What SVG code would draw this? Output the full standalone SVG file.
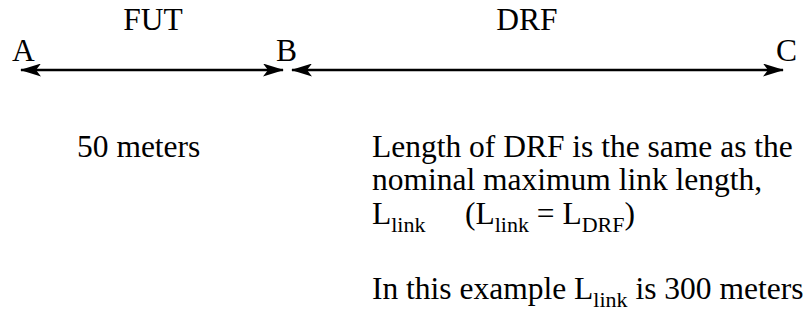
<svg xmlns="http://www.w3.org/2000/svg" width="812" height="322" viewBox="0 0 812 322" font-family="'Liberation Serif','Times New Roman',serif">
<style>
text{font-family:"Liberation Serif","Times New Roman",serif;font-size:31.5px;fill:#000}
.sub{font-size:22px}
.conn{stroke:#000;stroke-width:2.5;fill:none}
</style>
<defs>
<marker id="ah" viewBox="0 0 21 13" refX="20" refY="6.5" markerWidth="21" markerHeight="13" markerUnits="userSpaceOnUse" orient="auto-start-reverse">
<path d="M0,0 L21,6.5 L0,13 L5,6.5 Z" fill="#000"/>
</marker>
</defs>
<rect width="812" height="322" fill="#fff"/>
<g id="connectors">
<line class="conn" x1="21" y1="70" x2="283" y2="70" marker-start="url(#ah)" marker-end="url(#ah)"/>
<line class="conn" x1="292" y1="70" x2="783" y2="70" marker-start="url(#ah)" marker-end="url(#ah)"/>
</g>
<g id="label-FUT"><text x="153" y="30" text-anchor="middle">FUT</text></g>
<g id="label-DRF"><text x="527" y="30" text-anchor="middle">DRF</text></g>
<g id="point-A"><text x="12" y="61">A</text></g>
<g id="point-B"><text x="276" y="61">B</text></g>
<g id="point-C"><text x="776" y="61">C</text></g>
<g id="fut-length"><text x="77" y="157">50 meters</text></g>
<g id="drf-note">
<text x="372" y="157">Length of DRF is the same as the</text>
<text x="372" y="190">nominal maximum link length,</text>
<text x="372" y="224">L<tspan class="sub" dy="8">link</tspan></text>
<text x="465" y="224">(L<tspan class="sub" dy="8">link</tspan><tspan dy="-8"> = L</tspan><tspan class="sub" dy="8">DRF</tspan><tspan dy="-8">)</tspan></text>
<text x="372" y="299">In this example L<tspan class="sub" dy="8">link</tspan><tspan dy="-8"> is 300 meters</tspan></text>
</g>
</svg>
